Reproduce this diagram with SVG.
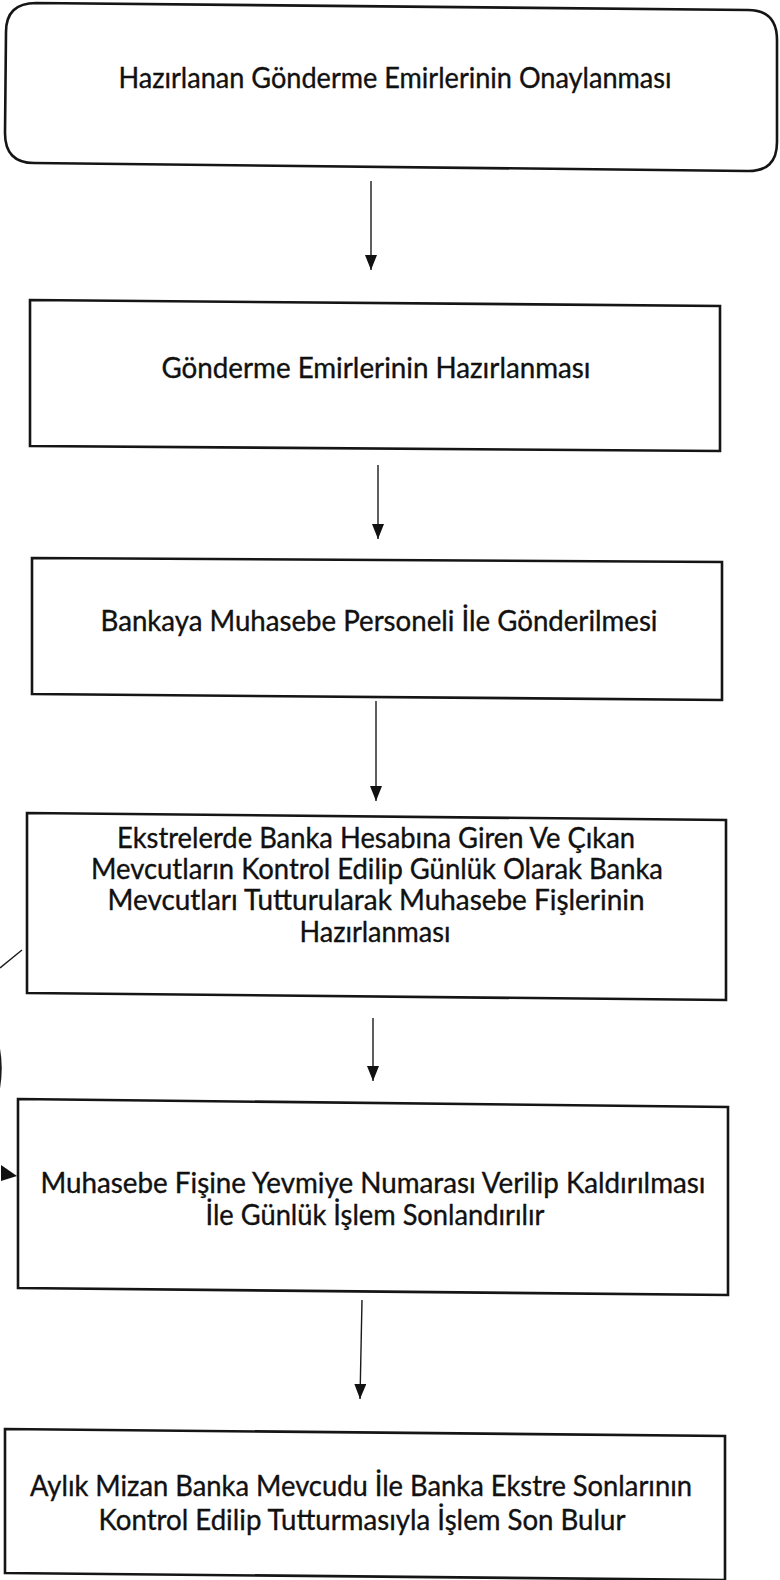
<svg xmlns="http://www.w3.org/2000/svg" width="780" height="1580" viewBox="0 0 780 1580">
  <style>
    .box { fill: #ffffff; stroke: #151515; stroke-width: 2.6; stroke-linejoin: miter; }
    .lbl { font-family: Lato, "Open Sans", "Liberation Sans", sans-serif; font-size: 28px; fill: #111111; stroke: #111111; stroke-width: 0.35; text-anchor: middle; }
    .wire { fill: none; stroke: #1a1a1a; stroke-width: 1.4; }
    .curve { fill: none; stroke: #1a1a1a; stroke-width: 2; }
  </style>
  <defs>
    <marker id="tri" viewBox="0 0 15 12" refX="15" refY="6" markerWidth="15" markerHeight="12" markerUnits="userSpaceOnUse" orient="auto">
      <path d="M0,0 L15,6 L0,12 Z" fill="#111111"/>
    </marker>
  </defs>

  <rect width="780" height="1580" fill="#ffffff"/>

  <!-- start: approval of prepared transfer orders -->
  <g id="node-onay">
    <path class="box" d="M36,3 L748,10 Q777,10 777,40 L777,142 Q777,172 747,171 L34,163 Q5,163 5,133 L6,32 Q6,3 36,3 Z"/>
    <text class="lbl" x="395" y="88" textLength="553" lengthAdjust="spacingAndGlyphs">Hazırlanan Gönderme Emirlerinin Onaylanması</text>
  </g>

  <g id="node-hazirlama">
    <path class="box" d="M30,300 L720,306 L720,451 L30,446 Z"/>
    <text class="lbl" x="376" y="378" textLength="429" lengthAdjust="spacingAndGlyphs">Gönderme Emirlerinin Hazırlanması</text>
  </g>

  <g id="node-gonderim">
    <path class="box" d="M32,558 L722,562 L722,700 L32,694 Z"/>
    <text class="lbl" x="379" y="631" textLength="557" lengthAdjust="spacingAndGlyphs">Bankaya Muhasebe Personeli İle Gönderilmesi</text>
  </g>

  <g id="node-ekstre">
    <path class="box" d="M27,813 L726,820 L726,1000 L27,993 Z"/>
    <text class="lbl" x="376" y="848" textLength="518" lengthAdjust="spacingAndGlyphs">Ekstrelerde Banka Hesabına Giren Ve Çıkan</text>
    <text class="lbl" x="377" y="879" textLength="572" lengthAdjust="spacingAndGlyphs">Mevcutların Kontrol Edilip Günlük Olarak Banka</text>
    <text class="lbl" x="376" y="910" textLength="537" lengthAdjust="spacingAndGlyphs">Mevcutları Tutturularak Muhasebe Fişlerinin</text>
    <text class="lbl" x="375" y="942" textLength="151" lengthAdjust="spacingAndGlyphs">Hazırlanması</text>
  </g>

  <g id="node-yevmiye">
    <path class="box" d="M18,1099 L728,1107 L728,1295 L18,1288 Z"/>
    <text class="lbl" x="373" y="1193" textLength="665" lengthAdjust="spacingAndGlyphs">Muhasebe Fişine Yevmiye Numarası Verilip Kaldırılması</text>
    <text class="lbl" x="375" y="1225" textLength="339" lengthAdjust="spacingAndGlyphs">İle Günlük İşlem Sonlandırılır</text>
  </g>

  <g id="node-mizan">
    <path class="box" d="M5,1429 L725,1436 L725,1580 L5,1573 Z"/>
    <text class="lbl" x="361" y="1496" textLength="662" lengthAdjust="spacingAndGlyphs">Aylık Mizan Banka Mevcudu İle Banka Ekstre Sonlarının</text>
    <text class="lbl" x="362" y="1530" textLength="527" lengthAdjust="spacingAndGlyphs">Kontrol Edilip Tutturmasıyla İşlem Son Bulur</text>
  </g>

  <g id="connectors">
    <line class="wire" x1="371" y1="181" x2="371" y2="270" marker-end="url(#tri)"/>
    <line class="wire" x1="378" y1="465" x2="378" y2="539" marker-end="url(#tri)"/>
    <line class="wire" x1="376" y1="701" x2="376" y2="801" marker-end="url(#tri)"/>
    <line class="wire" x1="373" y1="1018" x2="373" y2="1081" marker-end="url(#tri)"/>
    <line class="wire" x1="362" y1="1300" x2="360" y2="1399" marker-end="url(#tri)"/>
    <!-- loop-back connector on the left margin, mostly outside the page -->
    <line class="wire" x1="0" y1="968" x2="22" y2="950"/>
    <path class="curve" d="M-4,1036 Q5,1066 -3,1098"/>
    <path d="M1,1165 L17,1176 L1,1181 Z" fill="#111111"/>
  </g>
</svg>
